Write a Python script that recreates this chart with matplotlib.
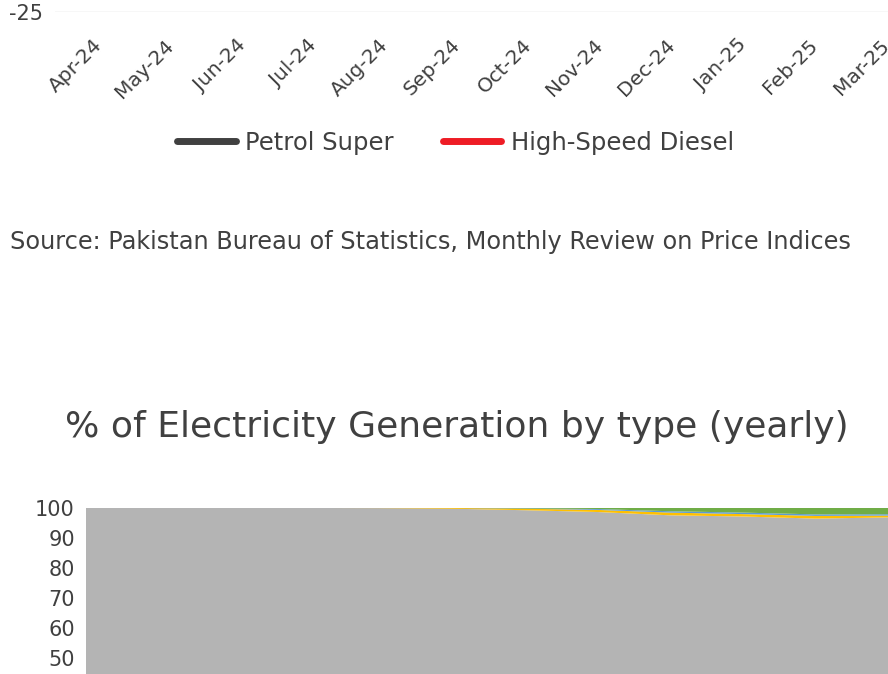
import matplotlib
matplotlib.use("Agg")
import matplotlib.pyplot as plt
from matplotlib.lines import Line2D

plt.rcParams["font.family"] = ["DejaVu Sans"]
plt.rcParams["axes.unicode_minus"] = False

# top chart: YoY change in fuel prices (%), mostly cropped out of view
months = ["Apr-24", "May-24", "Jun-24", "Jul-24", "Aug-24", "Sep-24",
          "Oct-24", "Nov-24", "Dec-24", "Jan-25", "Feb-25", "Mar-25"]
petrol_super = [3.0, -6.0, -9.5, -5.0, -7.5, -20.5, -12.6, -11.2, -10.2, -5.4, -5.8, -8.4]
hsd = [-1.0, -10.5, -11.0, -5.7, -10.5, -21.0, -11.7, -11.5, -12.3, -6.0, -6.5, -10.5]

# bottom chart: % of electricity generation by type
years = list(range(2012, 2024))
gray_share = [99.95, 99.95, 99.9, 99.85, 99.8, 99.6, 99.1, 98.5, 97.4, 97.0, 96.3, 96.7]
yellow_share = [0.05, 0.05, 0.1, 0.1, 0.15, 0.25, 0.5, 0.7, 0.9, 0.8, 0.9, 0.6]
blue_share = [0.0, 0.0, 0.0, 0.0, 0.0, 0.05, 0.1, 0.3, 0.45, 0.5, 0.5, 0.45]
green_share = [0.0, 0.0, 0.0, 0.05, 0.05, 0.1, 0.3, 0.5, 1.25, 1.7, 2.3, 2.25]

text_col = "#404040"
W, H = 888, 674
fig = plt.figure(figsize=(W / 100, H / 100), dpi=100)

# ---- top line chart (only the bottom strip is visible)
ax1 = fig.add_axes([55 / W, (H - 12) / H, 900 / W, 400 / H])
x = list(range(len(months)))
ax1.plot(x, petrol_super, color="#404040", lw=3)
ax1.plot(x, hsd, color="#ee1c25", lw=3)
ax1.set_ylim(-25, 10)
ax1.set_yticks([-25])
ax1.set_xlim(-0.531, -0.531 + 900 / 71.5)
ax1.set_xticks(x)
ax1.set_xticklabels(months, rotation=45, ha="right", rotation_mode="anchor")
ax1.tick_params(length=0, labelcolor=text_col)
ax1.tick_params(axis="x", pad=17, labelsize=14.5)
ax1.tick_params(axis="y", pad=9, labelsize=15)
ax1.grid(axis="y", color="#d9d9d9", lw=1)
for s in ax1.spines.values():
    s.set_visible(False)

handles = [Line2D([], [], color="#404040", lw=5, solid_capstyle="round"),
           Line2D([], [], color="#ee1c25", lw=5, solid_capstyle="round")]
fig.legend(handles, ["Petrol Super", "High-Speed Diesel"], loc="center",
           bbox_to_anchor=(455.5 / W, 1 - 143 / H), ncol=2, frameon=False,
           fontsize=17.5, labelcolor=text_col, handlelength=2.4,
           handletextpad=0.4, columnspacing=2.0)

fig.text(10 / W, 1 - 242 / H, "Source: Pakistan Bureau of Statistics, Monthly Review on Price Indices",
         fontsize=17.3, color=text_col, ha="left", va="center")

fig.text(457 / W, 1 - 427 / H, "% of Electricity Generation by type (yearly)",
         fontsize=26, color=text_col, ha="center", va="center")

# ---- bottom stacked area chart (cropped at the bottom)
ax2 = fig.add_axes([86 / W, (H - 807.5) / H, 803 / W, 300 / H])
ax2.stackplot(years, gray_share, yellow_share, blue_share, green_share,
              colors=["#b4b4b4", "#ffc000", "#5b9bd5", "#70ad47"], lw=0)
ax2.set_xlim(years[0], years[-1])
ax2.set_ylim(0, 100)
ax2.set_yticks(range(50, 101, 10))
ax2.set_xticks([])
ax2.tick_params(length=0, labelsize=15, labelcolor=text_col, pad=8)
ax2.grid(axis="y", color="#d9d9d9", lw=1, zorder=0)
ax2.set_axisbelow(True)
for s in ax2.spines.values():
    s.set_visible(False)

fig.savefig("out.png", dpi=100)
